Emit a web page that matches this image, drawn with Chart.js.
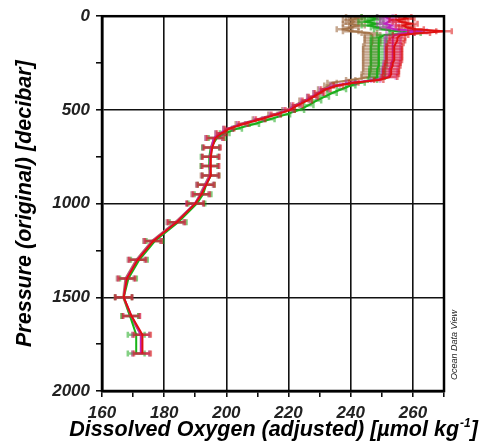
<!DOCTYPE html>
<html>
<head>
<meta charset="utf-8">
<script src="https://cdn.jsdelivr.net/npm/chart.js@4"></script>
<style>
  html, body { margin: 0; padding: 0; background: #fff; }
  #c { display: block; }
</style>
</head>
<body>
<canvas id="c" width="481" height="447"></canvas>
<script>
// pressure levels (dbar), shared by all profiles
const pressure = [4, 12, 20, 30, 40, 50, 60, 70, 80, 90,
  100, 115, 130, 145, 160, 175, 190, 205, 220, 235,
  250, 265, 280, 295, 310, 325, 340, 355, 370, 390,
  410, 430, 450, 475, 500, 525, 550, 575, 600, 625,
  650, 700, 750, 800, 850, 900, 950, 1000, 1100, 1200,
  1300, 1400, 1500, 1600, 1700, 1800];

// dissolved oxygen (umol/kg) per profile
const oxyRed = [257, 258, 255, 256, 259, 257, 258, 261, 270, 263,
  256, 255, 255, 254.5, 254, 254, 254, 254, 254, 254,
  253.5, 253.5, 253, 253, 253, 252.5, 249, 241, 236, 232,
  230, 228, 226, 223, 220.5, 216, 211, 205.5, 201, 198.5,
  196.5, 195.5, 195, 195, 195, 193.5, 192, 190, 184, 176.5,
  171.5, 168, 167, 169.5, 173, 173];
const oxyGreen = [246, 248, 247, 245, 248, 246, 249, 250, 255, 260,
  251, 249, 249, 249, 249, 249, 249, 249, 249, 249,
  249, 249, 248.5, 248.5, 248.5, 248.5, 247, 243, 240, 237,
  234, 231.5, 229, 226.5, 223.5, 219, 214, 209, 203.5, 199.5,
  197, 195, 194.5, 194.5, 195, 193.5, 192.5, 190.5, 184.5, 177,
  172, 168.5, 167, 169, 171, 171];
const oxyBrown = [241, 242, 240, 241, 240, 242, 240, 238, 240, 246,
  247, 247, 247, 247, 246.5, 246.5, 246.5, 246.5, 246.5, 246.5,
  246.5, 246.5, 246.5, 246.5, 246, 246, 240, 234, 233, 231,
  229.5, 227.5, 225, 222, 219.5, 215, 210, 204.5, 200.5, 198,
  196, 195, 195, 194.5, 194.5, 193, 191.5, 190, 183.5, 176,
  171, 167.5, 166.8, 169, 172.5, 172.5];
const oxyMagenta = [251, 252, 253, 252, 251, 253, 252, 254, 262, 258,
  254, 253.5, 253.5, 253.5, 253.5, 253.5, 253.5, 253.5, 253.5, 253.5,
  253, 253, 252.5, 252.5, 252.5, 252, 248, 240, 235, 231.5,
  229.5, 227.5, 225.5, 222.5, 220, 215.5, 210.5, 205, 200.5, 198,
  196, 195.2, 194.8, 194.8, 194.8, 193.2, 191.8, 189.8, 183.8, 176.3,
  171.3, 167.8, 167, 169.5, 172.5, 172.5];

// +/- uncertainty per level
const oxyErr = [2.5, 2.5, 2.5, 2.5, 2.5, 2.5, 2.5, 2.5, 2.5, 2.5,
  2.5, 2.5, 2.5, 2.5, 2.5, 2.5, 2.5, 2.5, 2.5, 2.5,
  2.5, 2.5, 2.5, 2.5, 2.5, 2.5, 1.5, 1.5, 1.5, 1.5,
  1.5, 1.5, 1.5, 1.5, 1.5, 1.5, 1.5, 1.5, 1.5, 1.5,
  2.7, 2.7, 2.7, 2.7, 2.7, 2.7, 2.7, 2.7, 2.7, 2.7,
  2.7, 2.7, 2.7, 2.7, 2.7, 2.7];

const xTicks = [160, 180, 200, 220, 240, 260];
const yTicks = [0, 500, 1000, 1500, 2000];

function profile(vals, color, barColor) {
  return {
    data: pressure.map((p, i) => ({ x: vals[i], y: p })),
    borderColor: color,
    barColor: barColor,
    borderWidth: 2,
    showLine: true,
    pointRadius: 0,
    tension: 0
  };
}

// horizontal error bars with caps
const errorBars = {
  id: 'errorBars',
  afterDatasetDraw(chart, args) {
    const ds = chart.data.datasets[args.index];
    const xs = chart.scales.x, ys = chart.scales.y;
    const ctx = chart.ctx;
    ctx.save();
    ctx.strokeStyle = ds.barColor;
    ctx.lineWidth = 2.5;
    ds.data.forEach((pt, i) => {
      const y = ys.getPixelForValue(pt.y);
      const x1 = xs.getPixelForValue(pt.x - oxyErr[i]);
      const x2 = xs.getPixelForValue(pt.x + oxyErr[i]);
      ctx.beginPath();
      ctx.moveTo(x1, y); ctx.lineTo(x2, y);
      ctx.moveTo(x1, y - 3); ctx.lineTo(x1, y + 3);
      ctx.moveTo(x2, y - 3); ctx.lineTo(x2, y + 3);
      ctx.stroke();
    });
    ctx.restore();
  }
};

const frameAndTitles = {
  id: 'frameAndTitles',
  afterDraw(chart) {
    const ctx = chart.ctx;
    const a = chart.chartArea;
    ctx.save();
    ctx.strokeStyle = '#000';
    ctx.lineWidth = 2.5;
    ctx.strokeRect(a.left, a.top, a.right - a.left, a.bottom - a.top);

    ctx.fillStyle = '#000';
    // x title with superscript
    const big = 'bold italic 21.5px "Liberation Sans", Arial, sans-serif';
    const small = 'bold italic 12px "Liberation Sans", Arial, sans-serif';
    const t1 = 'Dissolved Oxygen (adjusted) [µmol kg';
    const t2 = '-1';
    const t3 = ']';
    ctx.font = big;
    const w1 = ctx.measureText(t1).width;
    const w3 = ctx.measureText(t3).width;
    ctx.font = small;
    const w2 = ctx.measureText(t2).width;
    let x = (a.left + a.right) / 2 - (w1 + w2 + w3) / 2;
    const yb = 436;
    ctx.textBaseline = 'alphabetic';
    ctx.textAlign = 'left';
    ctx.font = big;
    ctx.fillText(t1, x, yb);
    ctx.font = small;
    ctx.fillText(t2, x + w1 + 1, yb - 9);
    ctx.font = big;
    ctx.fillText(t3, x + w1 + w2 + 1, yb);

    // y title
    ctx.save();
    ctx.translate(31, (a.top + a.bottom) / 2);
    ctx.rotate(-Math.PI / 2);
    ctx.textAlign = 'center';
    ctx.font = big;
    ctx.fillText('Pressure (original) [decibar]', 0, 0);
    ctx.restore();

    // ODV mark
    ctx.save();
    ctx.translate(454, 345);
    ctx.rotate(-Math.PI / 2);
    ctx.textAlign = 'center';
    ctx.textBaseline = 'middle';
    ctx.font = 'italic 9px "Liberation Sans", Arial, sans-serif';
    ctx.fillStyle = '#222';
    ctx.fillText('Ocean Data View', 0, 0);
    ctx.restore();
    ctx.restore();
  }
};

const tickFont = { family: '"Liberation Sans", Arial, sans-serif', size: 17, style: 'italic', weight: 'bold' };

// first dataset is drawn on top
new Chart(document.getElementById('c'), {
  type: 'scatter',
  data: {
    datasets: [
      profile(oxyRed, '#e01010', 'rgba(220,20,20,0.55)'),
      profile(oxyMagenta, '#c020c0', 'rgba(190,40,190,0.4)'),
      profile(oxyGreen, '#18b418', 'rgba(30,170,30,0.55)'),
      profile(oxyBrown, '#b08458', 'rgba(160,110,70,0.6)')
    ]
  },
  options: {
    responsive: false,
    animation: false,
    devicePixelRatio: 1,
    layout: { padding: { top: 15, right: 37, left: 0, bottom: 0 } },
    plugins: { legend: { display: false }, tooltip: { enabled: false } },
    scales: {
      x: {
        type: 'linear',
        min: 160, max: 270,
        afterFit(s) { s.height = 56; },
        afterBuildTicks(s) {
          const t = [];
          for (let v = 160; v <= 270; v += 10) t.push({ value: v });
          s.ticks = t;
        },
        ticks: {
          autoSkip: false, maxRotation: 0, padding: 6, color: '#222', font: tickFont,
          callback: v => xTicks.includes(v) ? String(v) : ''
        },
        grid: {
          color: c => xTicks.includes(c.tick && c.tick.value) ? '#111' : 'rgba(0,0,0,0)',
          lineWidth: 1.6, tickLength: 6, tickColor: '#000', tickWidth: 1.5
        },
        border: { color: '#000', width: 2.5 }
      },
      y: {
        type: 'linear',
        min: 0, max: 2000,
        reverse: true,
        afterFit(s) { s.width = 102; },
        afterBuildTicks(s) {
          const t = [];
          for (let v = 0; v <= 2000; v += 250) t.push({ value: v });
          s.ticks = t;
        },
        ticks: {
          autoSkip: false, padding: 6, color: '#222', font: tickFont,
          callback: v => yTicks.includes(v) ? String(v) : ''
        },
        grid: {
          color: c => yTicks.includes(c.tick && c.tick.value) ? '#111' : 'rgba(0,0,0,0)',
          lineWidth: 1.6, tickLength: 6, tickColor: '#000', tickWidth: 1.5
        },
        border: { color: '#000', width: 2.5 }
      }
    }
  },
  plugins: [errorBars, frameAndTitles]
});
</script>
</body>
</html>
